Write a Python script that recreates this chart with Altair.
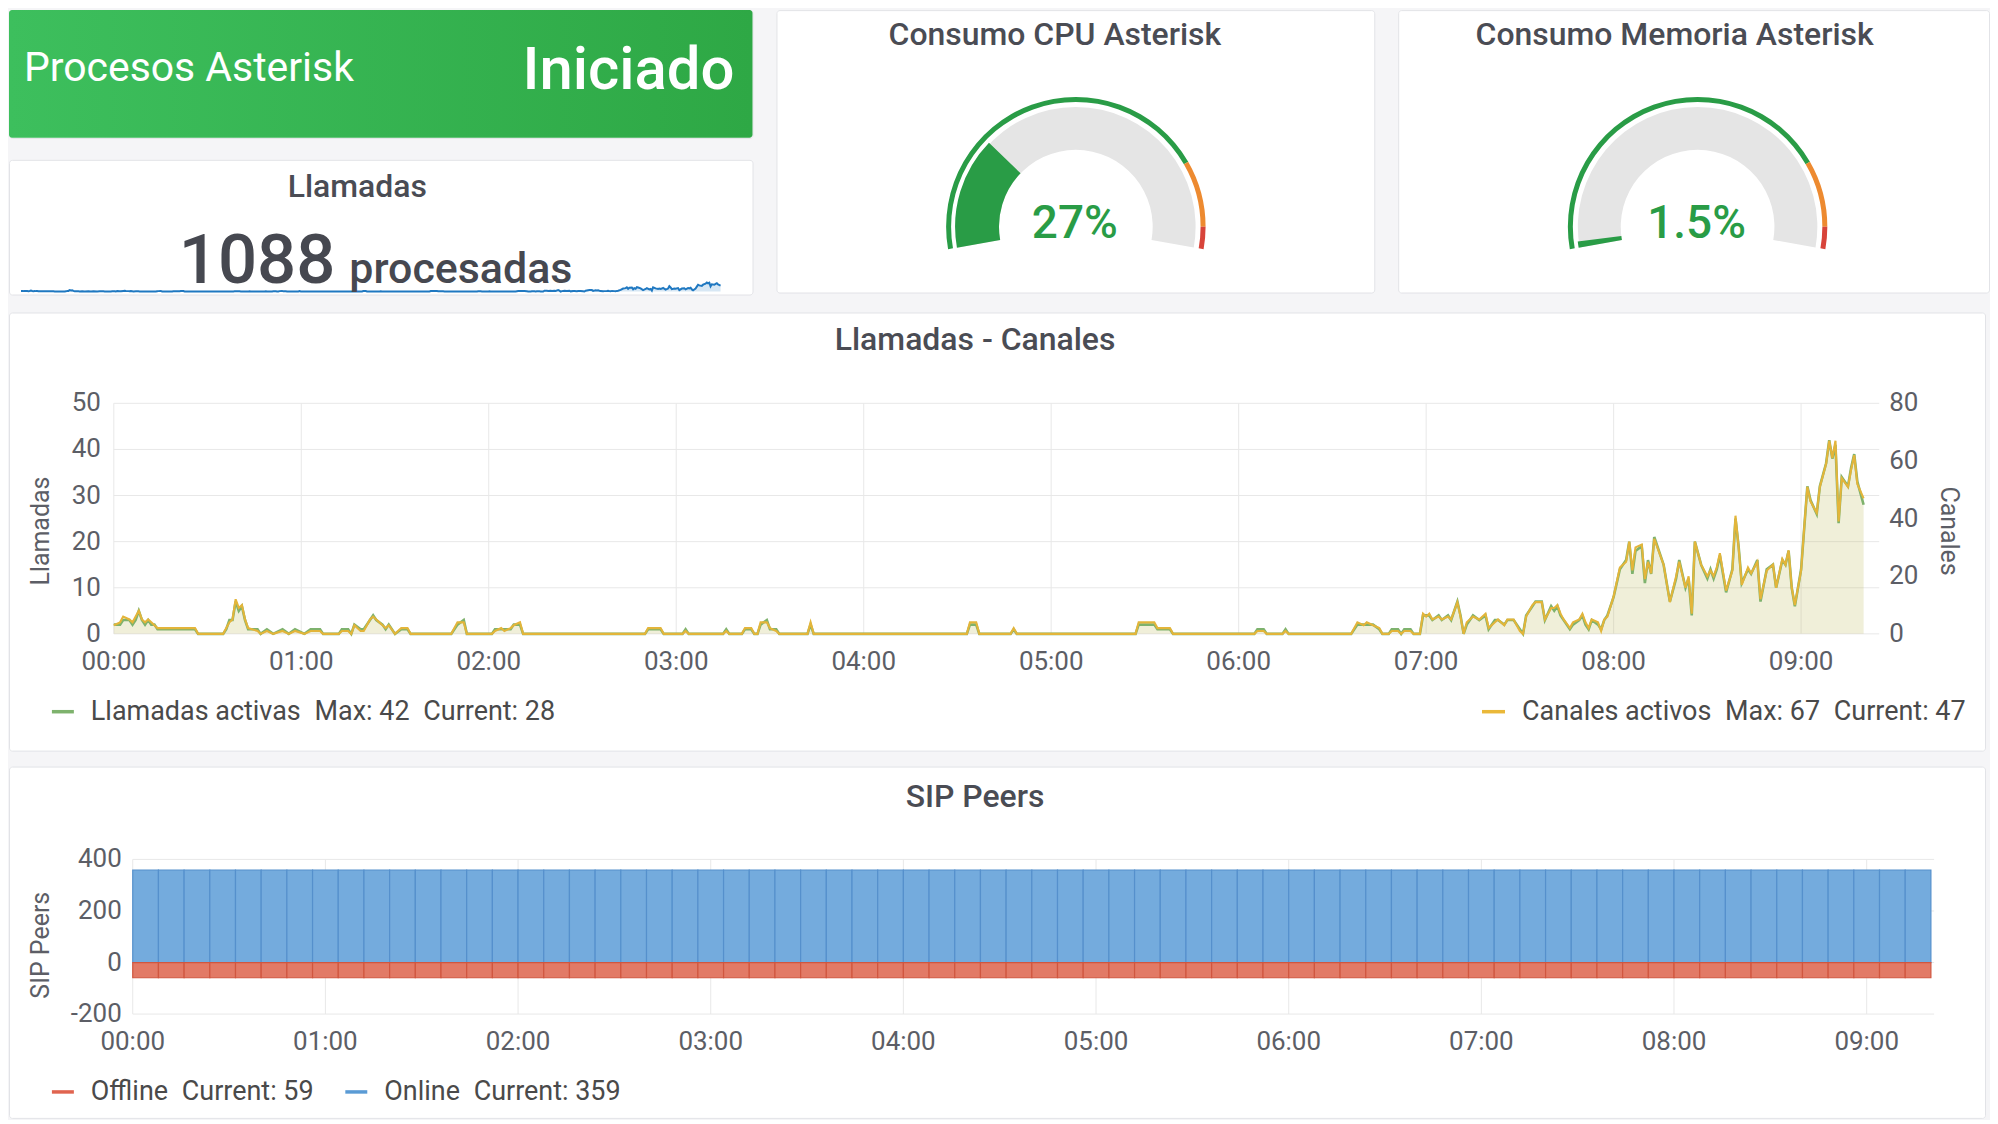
import math
import altair as alt
import pandas as pd

# ------------------------------------------------------------------ data
minutes = [
    0, 2, 3, 5, 6, 7, 8, 9, 10, 11,
    12, 13, 14, 26, 27, 35, 36, 37, 38, 39,
    40, 41, 42, 43, 46, 47, 49, 51, 54, 56,
    58, 61, 63, 66, 67, 72, 73, 75, 76, 77,
    79, 80, 82, 83, 84, 86, 87, 88, 90, 92,
    94, 95, 108, 109, 110, 112, 113, 121, 122, 124,
    125, 127, 128, 130, 131, 170, 171, 175, 176, 182,
    183, 184, 195, 196, 197, 201, 202, 204, 205, 206,
    207, 209, 210, 212, 213, 222, 223, 224, 273, 274,
    276, 277, 287, 288, 289, 327, 328, 333, 334, 338,
    339, 365, 366, 368, 369, 374, 375, 376, 396, 398,
    400, 401, 403, 405, 406, 408, 409, 411, 412, 413,
    415, 416, 418, 419, 420, 421, 422, 424, 425, 427,
    428, 430, 431, 432, 433, 435, 437, 439, 440, 442,
    443, 445, 446, 448, 450, 451, 452, 454, 455, 457,
    458, 460, 461, 462, 463, 464, 466, 467, 469, 470,
    471, 472, 473, 475, 476, 477, 478, 480, 482, 484,
    485, 486, 487, 489, 490, 491, 492, 493, 494, 496,
    498, 500, 501, 503, 504, 505, 506, 508, 510, 511,
    512, 513, 514, 516, 518, 519, 520, 521, 523, 524,
    526, 527, 529, 531, 532, 534, 535, 536, 537, 538,
    540, 541, 542, 543, 545, 546, 548, 549, 550, 551,
    552, 553, 555, 556, 557, 558, 560,
]
canales = [
    3, 4, 6, 5, 4, 6, 8, 5, 4, 5,
    4, 3, 2, 2, 0, 0, 2, 4, 5, 12,
    9, 10, 5, 2, 1, 0, 1, 0, 1, 0,
    1, 0, 1, 1, 0, 0, 1, 1, 0, 3,
    1, 1, 5, 6, 5, 3, 2, 3, 0, 2,
    2, 0, 0, 2, 4, 4, 0, 0, 1, 2,
    1, 2, 3, 4, 0, 0, 2, 2, 0, 0,
    1, 0, 0, 1, 0, 0, 2, 2, 0, 0,
    4, 4, 2, 1, 0, 0, 4, 0, 0, 4,
    4, 0, 0, 2, 0, 0, 4, 4, 2, 2,
    0, 0, 1, 1, 0, 0, 1, 0, 0, 4,
    3, 4, 3, 2, 0, 0, 1, 1, 0, 1,
    1, 0, 0, 7, 6, 7, 5, 6, 5, 6,
    5, 11, 6, 0, 4, 6, 5, 7, 2, 4,
    5, 3, 5, 5, 1, 0, 6, 10, 11, 11,
    5, 9, 9, 10, 7, 5, 2, 4, 5, 7,
    4, 2, 5, 4, 1, 5, 6, 13, 23, 25,
    32, 22, 30, 31, 19, 25, 21, 33, 30, 24,
    11, 20, 25, 16, 20, 7, 32, 24, 20, 22,
    20, 23, 28, 15, 22, 41, 30, 17, 23, 21,
    25, 12, 22, 24, 16, 26, 24, 29, 16, 10,
    22, 37, 51, 46, 42, 51, 59, 67, 61, 67,
    39, 54, 51, 57, 62, 52, 47,
]
llamadas = [
    2, 2, 3, 3, 2, 3, 5, 3, 2, 3,
    2, 2, 1, 1, 0, 0, 1, 3, 3, 7,
    5, 6, 3, 1, 1, 0, 1, 0, 1, 0,
    1, 0, 1, 1, 0, 0, 1, 1, 0, 2,
    1, 1, 3, 4, 3, 2, 1, 2, 0, 1,
    1, 0, 0, 1, 2, 3, 0, 0, 1, 1,
    1, 1, 2, 2, 0, 0, 1, 1, 0, 0,
    1, 0, 0, 1, 0, 0, 1, 1, 0, 0,
    2, 3, 1, 1, 0, 0, 2, 0, 0, 2,
    2, 0, 0, 1, 0, 0, 2, 2, 1, 1,
    0, 0, 1, 1, 0, 0, 1, 0, 0, 2,
    2, 2, 2, 1, 0, 0, 1, 1, 0, 1,
    1, 0, 0, 4, 4, 4, 3, 4, 3, 4,
    3, 7, 4, 0, 2, 4, 3, 4, 1, 3,
    3, 2, 3, 3, 1, 0, 4, 6, 7, 7,
    3, 6, 5, 6, 4, 3, 1, 2, 3, 4,
    2, 1, 3, 2, 1, 3, 4, 8, 14, 16,
    20, 13, 18, 19, 11, 16, 13, 21, 19, 15,
    7, 12, 16, 10, 12, 4, 20, 15, 12, 14,
    12, 14, 17, 9, 14, 25, 19, 11, 14, 13,
    16, 7, 14, 15, 10, 16, 15, 18, 10, 6,
    14, 23, 32, 29, 26, 32, 37, 42, 38, 41,
    24, 34, 32, 36, 39, 33, 28,
]

hour_ticks = [0, 60, 120, 180, 240, 300, 360, 420, 480, 540]
hour_labels = ["00:00", "01:00", "02:00", "03:00", "04:00",
               "05:00", "06:00", "07:00", "08:00", "09:00"]
llamadas_ticks = [0, 10, 20, 30, 40, 50]
llamadas_tick_labels = ["0", "10", "20", "30", "40", "50"]
canales_ticks = [0, 20, 40, 60, 80]
canales_tick_labels = ["0", "20", "40", "60", "80"]
sip_ticks = [-200, 0, 200, 400]
sip_tick_labels = ["-200", "0", "200", "400"]

bar_start = [
    0, 8, 16, 24, 32, 40, 48, 56, 64, 72,
    80, 88, 96, 104, 112, 120, 128, 136, 144, 152,
    160, 168, 176, 184, 192, 200, 208, 216, 224, 232,
    240, 248, 256, 264, 272, 280, 288, 296, 304, 312,
    320, 328, 336, 344, 352, 360, 368, 376, 384, 392,
    400, 408, 416, 424, 432, 440, 448, 456, 464, 472,
    480, 488, 496, 504, 512, 520, 528, 536, 544, 552,
]
online = [
    359, 359, 359, 359, 359, 359, 359, 359, 359, 359,
    359, 359, 359, 359, 359, 359, 359, 359, 359, 359,
    359, 359, 359, 359, 359, 359, 359, 359, 359, 359,
    359, 359, 359, 359, 359, 359, 359, 359, 359, 359,
    359, 359, 359, 359, 359, 359, 359, 359, 359, 359,
    359, 359, 359, 359, 359, 359, 359, 359, 359, 359,
    359, 359, 359, 359, 359, 359, 359, 359, 359, 359,
]
offline = [
    59, 59, 59, 59, 59, 59, 59, 59, 59, 59,
    59, 59, 59, 59, 59, 59, 59, 59, 59, 59,
    59, 59, 59, 59, 59, 59, 59, 59, 59, 59,
    59, 59, 59, 59, 59, 59, 59, 59, 59, 59,
    59, 59, 59, 59, 59, 59, 59, 59, 59, 59,
    59, 59, 59, 59, 59, 59, 59, 59, 59, 59,
    59, 59, 59, 59, 59, 59, 59, 59, 59, 59,
]
bar_minutes = 8

cpu_percent = 27
mem_percent = 1.5
threshold_bounds = [0, 80, 95, 100]
threshold_levels = ["ok", "warn", "crit"]
total_calls = 1088
status_text = "Iniciado"

# ------------------------------------------------------------------ style
FONT = "Roboto"
C_TITLE = "#4a4c54"
C_LABEL = "#5c5e66"
C_LEGEND = "#4a4a4a"
C_GRID = "#e8e8e8"
G_GREEN = "#299c46"
S_GREEN = "#7eb26d"
S_YELLOW = "#eab839"
T_SIZE = 32
L_SIZE = 26
LEG_SIZE = 27

W_LEFT, W_CPU, W_MEM = 745, 599, 592
H_GREEN, H_STAT = 128, 135
H_TOP = H_GREEN + 20 + H_STAT
W_FULL = W_LEFT + W_CPU + W_MEM + 44
H_LINE = 439
H_SIP = 352

one = pd.DataFrame({"k": [0]})


def label(text, x, y, size, color, align="center", weight=400, angle=0,
          baseline="middle"):
    mk = dict(align=align, baseline=baseline, font=FONT, fontSize=size,
              color=color, fontWeight=weight)
    if angle:
        mk["angle"] = angle
    return alt.Chart(pd.DataFrame({"t": [text]})).mark_text(**mk).encode(
        x=alt.value(x), y=alt.value(y), text="t:N")


def dash(color, x0, x1, y):
    return alt.Chart(one).mark_rule(color=color, strokeWidth=3.5).encode(
        x=alt.value(x0), x2=alt.value(x1), y=alt.value(y))


# ------------------------------------------------------------------ green status panel
green_bg = alt.Chart(one).mark_rect(
    cornerRadius=3,
    color=alt.LinearGradient(
        gradient="linear",
        stops=[alt.GradientStop(color="#3dbf5d", offset=0),
               alt.GradientStop(color="#2ea845", offset=1)],
        x1=0, x2=1, y1=0, y2=0),
).encode(x=alt.value(0), x2=alt.value(W_LEFT), y=alt.value(0), y2=alt.value(H_GREEN))

green_panel = alt.layer(
    green_bg,
    label("Procesos Asterisk", 15, 59, 41, "white", align="left"),
    label(status_text, 727, 61, 60, "white", align="right", weight=500),
).properties(width=W_LEFT, height=H_GREEN)

# ------------------------------------------------------------------ Llamadas stat panel
line_df = pd.DataFrame({"minute": minutes, "canales": canales, "llamadas": llamadas})

spark_x = alt.Scale(domain=[0, 560], range=[12, 713], nice=False, zero=False)
spark_y = alt.Scale(domain=[0, max(llamadas)], range=[132, 123], nice=False, zero=False)
spark_area = alt.Chart(line_df).mark_area(color="#1f78c1", opacity=0.18).encode(
    x=alt.X("minute:Q", scale=spark_x, axis=None),
    y=alt.Y("llamadas:Q", scale=spark_y, axis=None))
spark_line = alt.Chart(line_df).mark_line(color="#1f78c1", strokeWidth=2).encode(
    x=alt.X("minute:Q", scale=spark_x, axis=None),
    y=alt.Y("llamadas:Q", scale=spark_y, axis=None))

stat_panel = alt.layer(
    spark_area, spark_line,
    label("Llamadas", 349, 27, T_SIZE, C_TITLE, weight=500),
    label(str(total_calls), 327, 123, 69, "#464850", align="right", weight=500,
          baseline="alphabetic"),
    label("procesadas", 341, 123, 43, "#464850", align="left", weight=500,
          baseline="alphabetic"),
).properties(width=W_LEFT, height=H_STAT)

left_col = alt.vconcat(green_panel, stat_panel, spacing=20)

# ------------------------------------------------------------------ gauges
A0 = 2 * math.pi - math.radians(100)
A1 = 2 * math.pi + math.radians(100)


def gauge_panel(title, value, value_text, width, title_x):
    cx, cy = 300, 217
    theta_sc = alt.Scale(domain=[0, 100], range=[A0, A1])
    full_df = pd.DataFrame({"start": [0], "end": [100]})
    val_df = pd.DataFrame({"start": [0], "end": [value]})
    thr_df = pd.DataFrame({"start": threshold_bounds[:-1],
                           "end": threshold_bounds[1:],
                           "level": threshold_levels})
    bg = alt.Chart(full_df).mark_arc(radius=120, radius2=77, color="#e5e5e5").encode(
        theta=alt.Theta("start:Q", scale=theta_sc, stack=False),
        theta2=alt.Theta2("end:Q"), x=alt.value(cx), y=alt.value(cy))
    fill = alt.Chart(val_df).mark_arc(radius=121, radius2=77, color=G_GREEN).encode(
        theta=alt.Theta("start:Q", scale=theta_sc, stack=False),
        theta2=alt.Theta2("end:Q"), x=alt.value(cx), y=alt.value(cy))
    thr = alt.Chart(thr_df).mark_arc(radius=130, radius2=125).encode(
        theta=alt.Theta("start:Q", scale=theta_sc, stack=False),
        theta2=alt.Theta2("end:Q"),
        color=alt.Color("level:N", legend=None,
                        scale=alt.Scale(domain=threshold_levels,
                                        range=[G_GREEN, "#ed8a30", "#d8443a"])),
        x=alt.value(cx), y=alt.value(cy))
    return alt.layer(
        bg, fill, thr,
        label(title, title_x, 25, T_SIZE, C_TITLE, weight=500),
        label(value_text, cx - 1, 214, 46, G_GREEN, weight=500),
    ).properties(width=width, height=H_TOP)


cpu_panel = gauge_panel("Consumo CPU Asterisk", cpu_percent, f"{cpu_percent}%", W_CPU, 279)
mem_panel = gauge_panel("Consumo Memoria Asterisk", mem_percent, f"{mem_percent}%", W_MEM, 277)

top_row = alt.hconcat(left_col, cpu_panel, mem_panel, spacing=22)

# ------------------------------------------------------------------ Llamadas - Canales panel
LX0, LX1, LY0, LY1 = 105, 1874, 322, 91
xs = alt.Scale(domain=[0, 565], range=[LX0, LX1], nice=False, zero=False)
yl = alt.Scale(domain=[0, 50], range=[LY0, LY1], nice=False, zero=False)
yr = alt.Scale(domain=[0, 80], range=[LY0, LY1], nice=False, zero=False)

hours_df = pd.DataFrame({"tick": hour_ticks, "label": hour_labels})
lt_df = pd.DataFrame({"tick": llamadas_ticks, "label": llamadas_tick_labels})
ct_df = pd.DataFrame({"tick": canales_ticks, "label": canales_tick_labels})

vgrid = alt.Chart(hours_df).mark_rule(color=C_GRID, strokeWidth=1).encode(
    x=alt.X("tick:Q", scale=xs, axis=None), y=alt.value(LY1), y2=alt.value(LY0))
hgrid = alt.Chart(lt_df).mark_rule(color=C_GRID, strokeWidth=1).encode(
    y=alt.Y("tick:Q", scale=yl, axis=None), x=alt.value(LX0), x2=alt.value(LX1))
area_l = alt.Chart(line_df).mark_area(color=S_GREEN, opacity=0.10).encode(
    x=alt.X("minute:Q", scale=xs, axis=None),
    y=alt.Y("llamadas:Q", scale=yl, axis=None))
area_c = alt.Chart(line_df).mark_area(color=S_YELLOW, opacity=0.12).encode(
    x=alt.X("minute:Q", scale=xs, axis=None),
    y=alt.Y("canales:Q", scale=yr, axis=None))
line_l = alt.Chart(line_df).mark_line(color=S_GREEN, strokeWidth=2.6).encode(
    x=alt.X("minute:Q", scale=xs, axis=None),
    y=alt.Y("llamadas:Q", scale=yl, axis=None))
line_c = alt.Chart(line_df).mark_line(color="#e3b53a", strokeWidth=2.1).encode(
    x=alt.X("minute:Q", scale=xs, axis=None),
    y=alt.Y("canales:Q", scale=yr, axis=None))
lab_l = alt.Chart(lt_df).mark_text(align="right", baseline="middle", font=FONT,
                                   fontSize=L_SIZE, color=C_LABEL).encode(
    y=alt.Y("tick:Q", scale=yl, axis=None), x=alt.value(LX0 - 13), text="label:N")
lab_r = alt.Chart(ct_df).mark_text(align="left", baseline="middle", font=FONT,
                                   fontSize=L_SIZE, color=C_LABEL).encode(
    y=alt.Y("tick:Q", scale=yr, axis=None), x=alt.value(LX1 + 10), text="label:N")
lab_x = alt.Chart(hours_df).mark_text(align="center", baseline="middle", font=FONT,
                                      fontSize=L_SIZE, color=C_LABEL).encode(
    x=alt.X("tick:Q", scale=xs, axis=None), y=alt.value(350), text="label:N")

legend_llamadas = f"Llamadas activas\u2002Max: {max(llamadas)}\u2002Current: {llamadas[-1]}"
legend_canales = f"Canales activos\u2002Max: {max(canales)}\u2002Current: {canales[-1]}"

line_panel = alt.layer(
    vgrid, hgrid, area_l, area_c, line_l, line_c, lab_l, lab_r, lab_x,
    label("Llamadas - Canales", 968, 28, T_SIZE, C_TITLE, weight=500),
    label("Llamadas", 32, 219, 25, C_LABEL, angle=270),
    label("Canales", 1944, 219, 25, C_LABEL, angle=90),
    dash(S_GREEN, 43, 65, 400),
    label(legend_llamadas, 82, 400, LEG_SIZE, C_LEGEND, align="left"),
    dash(S_YELLOW, 1476, 1499, 400),
    label(legend_canales, 1516, 400, LEG_SIZE, C_LEGEND, align="left"),
).resolve_scale(y="independent").properties(width=W_FULL, height=H_LINE)

# ------------------------------------------------------------------ SIP Peers panel
SX0, SX1, SY0, SY1 = 124, 1929, 248, 93
xs2 = alt.Scale(domain=[0, 561], range=[SX0, SX1], nice=False, zero=False)
ys2 = alt.Scale(domain=[-200, 400], range=[SY0, SY1], nice=False, zero=False)

sip_df = pd.DataFrame({"t": bar_start, "online": online, "offline": offline})
st_df = pd.DataFrame({"tick": sip_ticks, "label": sip_tick_labels})

sip_base = alt.Chart(sip_df).transform_calculate(
    t2=f"datum.t + {bar_minutes}", neg="-datum.offline", base="0")

s_vgrid = alt.Chart(hours_df).mark_rule(color=C_GRID, strokeWidth=1).encode(
    x=alt.X("tick:Q", scale=xs2, axis=None), y=alt.value(SY1), y2=alt.value(SY0))
s_hgrid = alt.Chart(st_df).mark_rule(color=C_GRID, strokeWidth=1).encode(
    y=alt.Y("tick:Q", scale=ys2, axis=None), x=alt.value(SX0), x2=alt.value(SX1))
bars_on = sip_base.mark_rect(fill="#74abdd", stroke="#5590cc", strokeWidth=1.2).encode(
    x=alt.X("t:Q", scale=xs2, axis=None), x2="t2:Q",
    y=alt.Y("online:Q", scale=ys2, axis=None), y2="base:Q")
bars_off = sip_base.mark_rect(fill="#e27a66", stroke="#d0563f", strokeWidth=1.2).encode(
    x=alt.X("t:Q", scale=xs2, axis=None), x2="t2:Q",
    y=alt.Y("neg:Q", scale=ys2, axis=None), y2="base:Q")
s_lab_y = alt.Chart(st_df).mark_text(align="right", baseline="middle", font=FONT,
                                     fontSize=L_SIZE, color=C_LABEL).encode(
    y=alt.Y("tick:Q", scale=ys2, axis=None), x=alt.value(SX0 - 11), text="label:N")
s_lab_x = alt.Chart(hours_df).mark_text(align="center", baseline="middle", font=FONT,
                                        fontSize=L_SIZE, color=C_LABEL).encode(
    x=alt.X("tick:Q", scale=xs2, axis=None), y=alt.value(276), text="label:N")

legend_offline = f"Offline\u2002Current: {offline[-1]}"
legend_online = f"Online\u2002Current: {online[-1]}"

sip_panel = alt.layer(
    s_vgrid, s_hgrid, bars_on, bars_off, s_lab_y, s_lab_x,
    label("SIP Peers", 968, 30, T_SIZE, C_TITLE, weight=500),
    label("SIP Peers", 32, 179, 25, C_LABEL, angle=270),
    dash("#e0644f", 43, 65, 326),
    label(legend_offline, 82, 326, LEG_SIZE, C_LEGEND, align="left"),
    dash("#5a9bd5", 337, 359, 326),
    label(legend_online, 376, 326, LEG_SIZE, C_LEGEND, align="left"),
).properties(width=W_FULL, height=H_SIP)

# ------------------------------------------------------------------ dashboard
chart = alt.vconcat(
    top_row, line_panel, sip_panel, spacing=14, padding=0,
).configure(
    background="#f5f5f7",
).configure_view(
    fill="white", stroke="#e2e3e7", strokeWidth=1, cornerRadius=3,
)

chart.save("out.html", embed_options={"renderer": "svg", "actions": False})
